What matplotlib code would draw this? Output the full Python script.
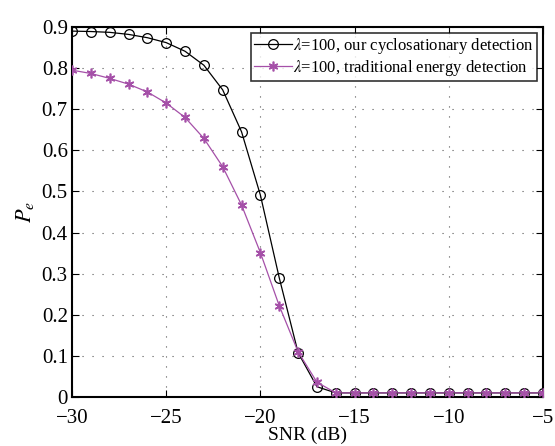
import matplotlib
matplotlib.use("Agg")
import matplotlib.pyplot as plt
import numpy as np

snr = list(range(-30, -4))
cyclo = [0.890, 0.889, 0.887, 0.882, 0.874, 0.862, 0.841, 0.807, 0.747, 0.645,
         0.491, 0.290, 0.108, 0.025, 0.010, 0.010, 0.010, 0.010, 0.010, 0.010,
         0.010, 0.010, 0.010, 0.010, 0.010, 0.010]
energy = [0.795, 0.787, 0.775, 0.761, 0.742, 0.715, 0.680, 0.629, 0.560, 0.467,
          0.351, 0.222, 0.110, 0.036, 0.010, 0.010, 0.010, 0.010, 0.010, 0.010,
          0.010, 0.010, 0.010, 0.010, 0.010, 0.010]
xticks = [-30, -25, -20, -15, -10, -5]
yticks = [0, 0.1, 0.2, 0.3, 0.4, 0.5, 0.6, 0.7, 0.8, 0.9]

plt.rcParams['font.family'] = ['Liberation Serif', 'DejaVu Serif']
plt.rcParams['mathtext.fontset'] = 'stix'

fig = plt.figure(figsize=(5.55, 4.46), dpi=100)
ax = fig.add_axes([72/555, 1-397/446, (543-72)/555, (397-27)/446])

magenta = '#a550a8'
ax.plot(snr, cyclo, color='black', lw=0.9, marker='o', ms=7, mfc='none', mec='black', mew=0.9,
        label=r'$\lambda$=100, our cyclosationary detection', zorder=3)
ax.plot(snr, energy, color=magenta, lw=0.9, marker=(6, 2, 0), ms=7, mec=magenta, mew=1.2,
        label=r'$\lambda$=100, traditional energy detection', zorder=3)

ax.set_xlim(-30, -5)
ax.set_ylim(0, 0.9)
ax.set_xticks(xticks)
ax.set_yticks(yticks)
ax.set_xticklabels(['\u221230', '\u221225', '\u221220', '\u221215', '\u221210', '\u22125'])
ax.set_yticklabels(['0', '0.1', '0.2', '0.3', '0.4', '0.5', '0.6', '0.7', '0.8', '0.9'])
ax.tick_params(direction='in', labelsize=15, length=5, width=0.8, top=True, right=True)
ax.tick_params(axis='x', pad=8.5)
ax.tick_params(axis='y', pad=3)
ax.grid(True, linestyle=(0, (1, 8)), color='#555555', linewidth=0.8)
for s in ax.spines.values():
    s.set_linewidth(1.5)

ax.set_xlabel('SNR (dB)', fontsize=14, labelpad=-1)
ax.set_ylabel(r'$P_e$', fontsize=16, labelpad=4)

leg = ax.legend(loc='upper right', fontsize=12, frameon=True, fancybox=False,
                edgecolor='black', borderpad=0.2, handlelength=2.3, handletextpad=0.05,
                labelspacing=0.1, borderaxespad=0.35)
leg.get_frame().set_linewidth(1.2)

fig.savefig('out.png', dpi=100)
